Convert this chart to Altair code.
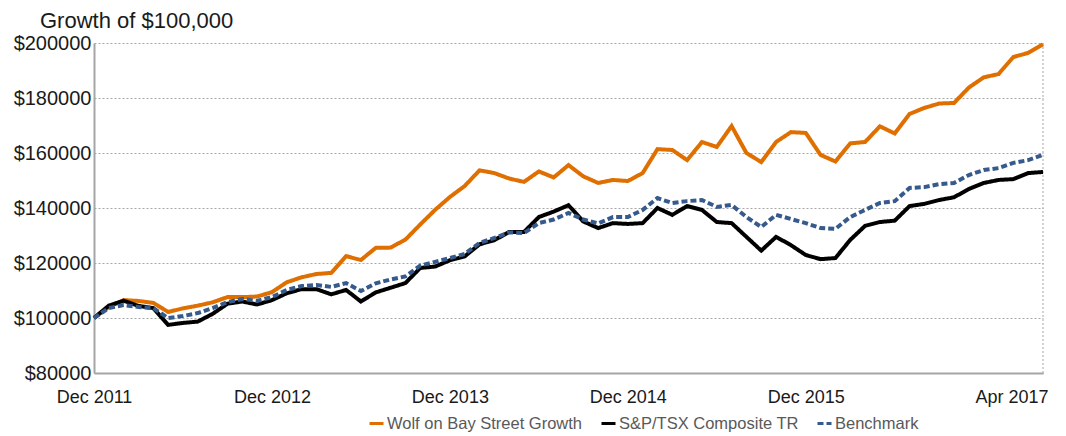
import altair as alt
import pandas as pd

# ---- data (monthly, Dec 2011 .. Apr 2017) ----
months = list(range(65))

wolf = [100000, 104000, 106500, 106200, 105500, 102200, 103500, 104500, 105700, 107600,
        107600, 107800, 109400, 113000, 114800, 116000, 116400, 122500, 121100, 125500,
        125600, 128500, 134000, 139300, 144000, 148000, 153700, 152700, 150700, 149500,
        153300, 151100, 155600, 151500, 149100, 150200, 149800, 152700, 161400, 161100,
        157400, 164000, 162200, 169800, 160000, 156700, 164000, 167600, 167300, 159300,
        156900, 163500, 164000, 169700, 167100, 174200, 176400, 178000, 178200, 183800,
        187500, 188700, 194900, 196400, 199500]

tsx = [100000, 104500, 106300, 104400, 103600, 97500, 98200, 98700, 101500, 105200,
       106000, 104900, 106500, 109000, 110500, 110500, 108600, 110200, 106000, 109300,
       111000, 112700, 118200, 118700, 121000, 122400, 126800, 128300, 131300, 131300,
       136700, 138700, 141000, 135100, 132700, 134500, 134200, 134500, 140000, 137500,
       140700, 139300, 134900, 134500, 129500, 124500, 129500, 126500, 122900, 121400,
       121800, 128400, 133500, 134900, 135400, 140700, 141500, 142900, 143900, 146900,
       149100, 150200, 150500, 152700, 153100]

bench = [100000, 103600, 104700, 104000, 103600, 100000, 100700, 101800, 103600, 105800,
         106900, 106200, 107600, 110200, 111600, 112000, 111300, 112700, 109800, 112600,
         114000, 115100, 119100, 120400, 121800, 123300, 127300, 129100, 131100, 130900,
         134500, 135800, 138200, 135800, 134400, 136700, 136700, 139300, 143600, 141800,
         142500, 142900, 140400, 141100, 136700, 133100, 137500, 136000, 134500, 132700,
         132400, 136700, 139300, 141800, 142500, 147300, 147600, 148700, 149100, 152000,
         153800, 154500, 156400, 157400, 159300]

series_names = ["Wolf on Bay Street Growth", "S&P/TSX Composite TR", "Benchmark"]
series_colors = ["#DF6F00", "#000000", "#365A8C"]
series_dash = [[1, 0], [1, 0], [6, 3]]

tick_pos = [0, 12, 24, 36, 48, 64]
tick_labels = ["Dec 2011", "Dec 2012", "Dec 2013", "Dec 2014", "Dec 2015", "Apr 2017"]
y_ticks = [80000, 100000, 120000, 140000, 160000, 180000, 200000]

rows = []
for name, vals in zip(series_names, [wolf, tsx, bench]):
    for m, v in zip(months, vals):
        rows.append({"month": m, "value": v, "series": name})
df = pd.DataFrame(rows)
edge_df = pd.DataFrame({"month": [months[-1]]})

FONT = "Liberation Sans"
GRAY = "#A6A6A6"

pos_arr = "[" + ",".join(str(p) for p in tick_pos) + "]"
lab_arr = "[" + ",".join("'" + l + "'" for l in tick_labels) + "]"

x_enc = alt.X(
    "month:Q",
    scale=alt.Scale(domain=[months[0], months[-1]], nice=False, zero=False),
    axis=alt.Axis(
        values=tick_pos,
        labelExpr=f"{lab_arr}[indexof({pos_arr}, datum.value)]",
        labelAlign={"condition": {"test": f"datum.value == {tick_pos[-1]}", "value": "right"},
                    "value": "center"},
        labelOffset={"condition": {"test": f"datum.value == {tick_pos[-1]}", "value": 5},
                     "value": 0},
        title=None, grid=False, ticks=False,
        domainColor=GRAY, domainWidth=2,
        labelFont=FONT, labelFontSize=18, labelColor="#1a1a1a", labelPadding=15,
    ),
)

y_enc = alt.Y(
    "value:Q",
    scale=alt.Scale(domain=[80000, 200000], nice=False, zero=False),
    axis=alt.Axis(
        values=y_ticks,
        labelExpr="'$' + datum.value",
        title=None, ticks=False,
        domainColor=GRAY, domainWidth=2,
        grid=True, gridColor=GRAY, gridDash=[2, 2], gridWidth=1,
        labelFont=FONT, labelFontSize=20, labelColor="#1a1a1a", labelPadding=3,
    ),
)

leg = alt.Legend(
    title=None, orient="none", legendX=274, legendY=372, direction="horizontal",
    labelFont=FONT, labelFontSize=16.5, labelColor="#595959", labelLimit=500,
    symbolType="stroke", symbolStrokeWidth=3, symbolSize=196, columnPadding=12,
    labelOffset=2,
)

lines = alt.Chart(df).mark_line(strokeWidth=4).encode(
    x=x_enc,
    y=y_enc,
    color=alt.Color("series:N", scale=alt.Scale(domain=series_names, range=series_colors),
                    legend=leg, sort=series_names),
    strokeDash=alt.StrokeDash("series:N", scale=alt.Scale(domain=series_names, range=series_dash),
                              legend=leg, sort=series_names),
)

edge = alt.Chart(edge_df).mark_rule(color=GRAY, strokeDash=[2, 2], strokeWidth=1).encode(
    x=alt.X("month:Q")
)

chart = alt.layer(edge, lines).properties(
    width=949,
    height=330,
    autosize=alt.AutoSizeParams(type="none"),
    padding={"left": 86, "top": 35, "right": 15, "bottom": 60},
    title=alt.TitleParams(
        "Growth of $100,000", anchor="start", frame="group", dx=-54, fontSize=22,
        fontWeight="normal", font=FONT, color="#1a1a1a", offset=0,
    ),
).configure_view(stroke=None)

chart.save("out.html", embed_options={"renderer": "svg", "actions": False})
